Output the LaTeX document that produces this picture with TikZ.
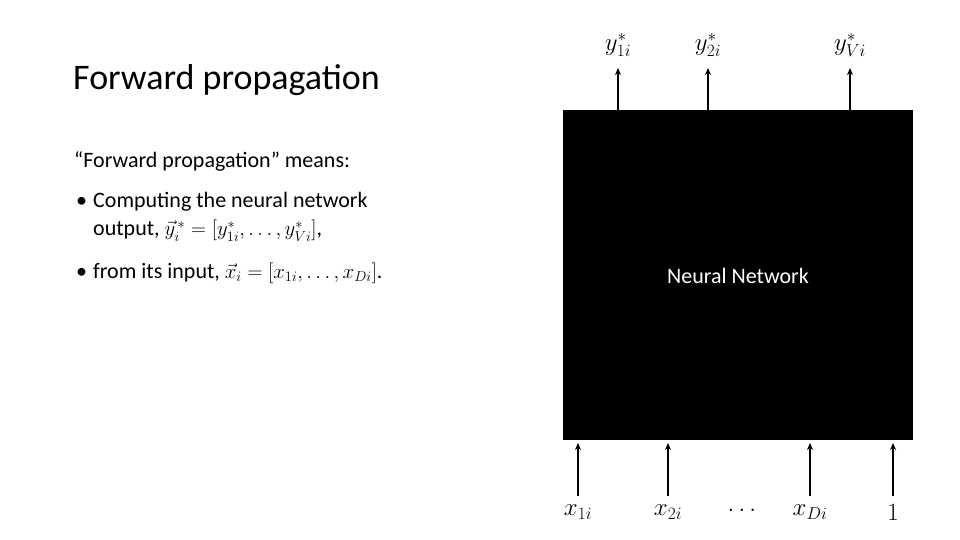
\documentclass[tikz,border=0pt]{standalone}
\usepackage{fontspec}
\setmainfont{Carlito}
\usepackage{amsmath}
\usetikzlibrary{arrows.meta}
\begin{document}
\begin{tikzpicture}[x=1pt,y=-1pt,
  arr/.style={-{Stealth[length=7pt,width=6pt]},line width=2.2pt},
  lbl/.style={font=\fontsize{26}{30}\selectfont},
  txt/.style={anchor=west,font=\fontsize{22}{26}\selectfont,inner sep=0pt}]
\useasboundingbox (0,0) rectangle (960,540);
\fill[white] (0,0) rectangle (960,540);
\node[anchor=west,inner sep=0pt,font=\fontsize{36}{40}\selectfont] (title) at (73,80) {Forward propagation};
\node[txt] (t1) at (74,161) {“Forward propagation” means:};
\node[txt] (b1) at (76,202) {•};
\node[txt] (t2) at (93,202) {Computing the neural network};
\node[txt] (t3) at (93,231) {output, $\vec{y}_i^{\,*}=[y_{1i}^*,\ldots,y_{Vi}^*]$,};
\node[txt] (b2) at (76,273) {•};
\node[txt] (t4) at (93,273) {from its input, $\vec{x}_i=[x_{1i},\ldots,x_{Di}]$.};
\node[fill=black,minimum width=350pt,minimum height=330pt,inner sep=0pt,anchor=north west] (nn) at (563,110) {};
\node[font=\fontsize{22}{26}\selectfont,text=white] (nnl) at (738,276) {Neural Network};
\foreach \n/\x/\l in {o1/618/{y_{1i}^*},o2/708/{y_{2i}^*},o3/850/{y_{Vi}^*}}{
  \node[lbl] (\n) at (\x,45) {$\l$};
  \coordinate (\n s) at (\x,110);
  \draw[arr] (\n s) -- (\x,68);
}
\foreach \n/\x/\l in {i1/578/{x_{1i}},i2/668/{x_{2i}},i3/810/{x_{Di}},i4/893/{1}}{
  \node[lbl] (\n) at (\x,512) {$\l$};
  \coordinate (\n s) at (\x,496);
  \draw[arr] (\n s) -- (\x,443);
}
\node[lbl] (dots) at (742,510) {$\ldots$};
\end{tikzpicture}
\end{document}
